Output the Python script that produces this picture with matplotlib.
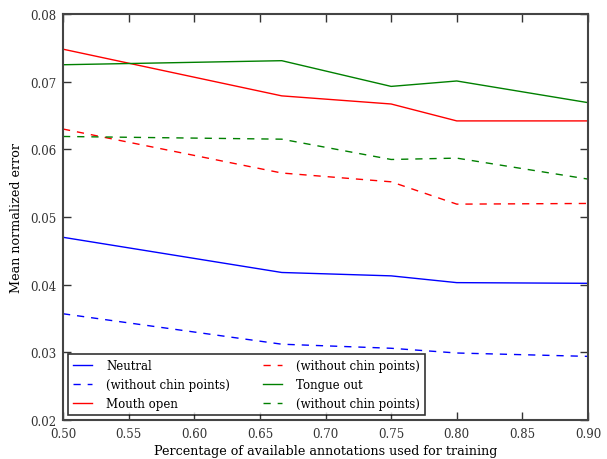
import matplotlib
matplotlib.use("Agg")
import matplotlib.pyplot as plt

x = [0.5, 2/3, 0.75, 0.8, 0.9]
neutral = [0.0470, 0.0418, 0.0413, 0.0403, 0.0402]
neutral_nochin = [0.0357, 0.0312, 0.0306, 0.0299, 0.0294]
mouth = [0.0748, 0.0679, 0.0667, 0.0642, 0.0642]
mouth_nochin = [0.0630, 0.0565, 0.0552, 0.0519, 0.0520]
tongue = [0.0725, 0.0731, 0.0693, 0.0701, 0.0669]
tongue_nochin = [0.0619, 0.0615, 0.0585, 0.0587, 0.0556]

xticks = [0.50, 0.55, 0.60, 0.65, 0.70, 0.75, 0.80, 0.85, 0.90]
yticks = [0.02, 0.03, 0.04, 0.05, 0.06, 0.07, 0.08]

plt.rcParams['font.family'] = ['DejaVu Serif']
plt.rcParams['xtick.direction'] = 'in'
plt.rcParams['ytick.direction'] = 'in'

fig = plt.figure(figsize=(6.07, 4.60), dpi=100)
ax = fig.add_axes([0.1038, 0.0848, 0.8649, 0.8826])

dash = (0, (5.2, 5.0))
ax.plot(x, neutral, color='blue', lw=1, label='Neutral')
ax.plot(x, neutral_nochin, color='blue', lw=1, ls=dash, label='(without chin points)')
ax.plot(x, mouth, color='red', lw=1, label='Mouth open')
ax.plot(x, mouth_nochin, color='red', lw=1, ls=dash, label='(without chin points)')
ax.plot(x, tongue, color='green', lw=1, label='Tongue out')
ax.plot(x, tongue_nochin, color='green', lw=1, ls=dash, label='(without chin points)')

ax.set_xlim(0.5, 0.9)
ax.set_ylim(0.02, 0.08)
ax.set_xticks(xticks)
ax.set_xticklabels([f"{v:.2f}" for v in xticks])
ax.set_yticks(yticks)
ax.set_yticklabels([f"{v:.2f}" for v in yticks])
ax.tick_params(top=True, right=True, length=6, width=1, labelsize=8.5, colors='#333333', labelcolor='#333333', pad=5)
for s in ax.spines.values():
    s.set_linewidth(1.5)
    s.set_color('#444444')

ax.set_xlabel('Percentage of available annotations used for training', fontsize=9.2, labelpad=3)
ax.set_ylabel('Mean normalized error', fontsize=9.2, labelpad=5)

leg = ax.legend(ncol=2, loc='lower left', fontsize=8.5, frameon=True, fancybox=False,
                edgecolor='black', handlelength=1.6, columnspacing=2.8,
                borderaxespad=0.45, labelspacing=0.5, handletextpad=1.2,
                borderpad=0.4)
leg.get_frame().set_linewidth(1.2)

fig.savefig('out.png', dpi=100, facecolor='white')
